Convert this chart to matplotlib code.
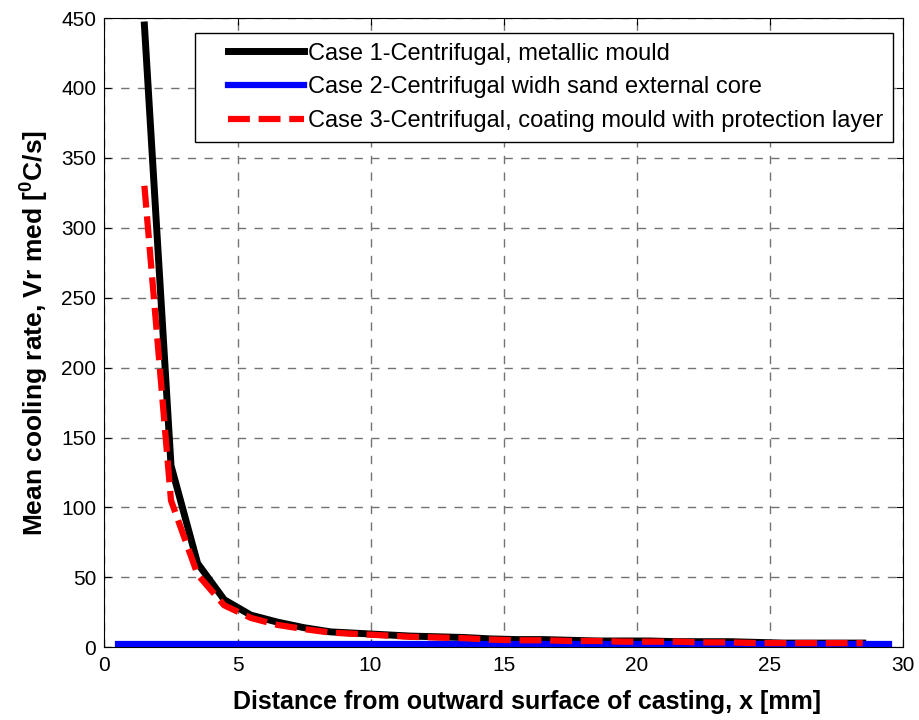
import numpy as np
import matplotlib
matplotlib.use('Agg')
import matplotlib.pyplot as plt
from matplotlib.patches import Rectangle

plt.rcParams['font.family'] = ['Liberation Sans', 'DejaVu Sans']
plt.rcParams['mathtext.fontset'] = 'custom'
plt.rcParams['mathtext.rm'] = 'Liberation Sans:bold'
plt.rcParams['mathtext.bf'] = 'Liberation Sans:bold'

# distances along casting [mm]
x_case = [1.5, 2.5, 3.5, 4.5, 5.5, 6.5, 7.5, 8.5, 9.5, 10.5, 11.5, 12.5, 13.5, 14.5,
          15.5, 16.5, 17.5, 18.5, 19.5, 20.5, 21.5, 22.5, 23.5, 24.5, 25.5, 26.5,
          27.5, 28.5]
case1 = [445, 130, 60, 34, 23, 18, 14, 11, 10, 9, 8, 7.5, 7, 6, 5.5, 5.5, 5, 4.5,
         4.5, 4.5, 4, 4, 4, 3.5, 3, 3, 3, 3]
case3 = [330, 105, 52, 30, 21, 16, 13, 10.5, 9.5, 8.5, 7.5, 7, 6.5, 5.5, 5, 5, 4.5,
         4.5, 4, 4, 4, 3.5, 3.5, 3, 3, 3, 3, 3]
x_case2 = [0.5, 5.5, 10.5, 15.5, 20.5, 25.5, 29.5]
case2 = [2, 2, 2, 2, 2, 2, 2]

labels = ['Case 1-Centrifugal, metallic mould',
          'Case 2-Centrifugal widh sand external core',
          'Case 3-Centrifugal, coating mould with protection layer']

fig = plt.figure(figsize=(9.19, 7.2), dpi=100)
ax = fig.add_axes([0.1137, 0.101, 0.8685, 0.874])

ax.plot(x_case, case1, color='black', lw=5, label=labels[0], zorder=3)
ax.plot(x_case2, case2, color='#0000ff', lw=4.5, label=labels[1], zorder=3)
ax.plot(x_case, case3, color='#ff0000', lw=4.5, dashes=(3.5, 1.4), label=labels[2], zorder=4)

ax.set_xlim(0, 30)
ax.set_ylim(0, 450)
ax.set_xticks(np.arange(0, 31, 5))
ax.set_yticks(np.arange(0, 451, 50))
ax.tick_params(direction='in', labelsize=15, length=5, pad=6, top=True, right=True)
ax.grid(True, color='0.45', linestyle=(0, (6, 6)), linewidth=1.0)

ax.set_xlabel('Distance from outward surface of casting, x [mm]', fontsize=18,
              fontweight='bold')
ax.xaxis.set_label_coords(0.529, -0.068)
ax.set_ylabel(r'Mean cooling rate, Vr med [$^{0}$C/s]', fontsize=19,
              fontweight='bold', labelpad=8)

leg = ax.legend(loc='upper right', bbox_to_anchor=(0.988, 0.976), fontsize=17,
                frameon=False, handlelength=3.2, handletextpad=0.2,
                borderaxespad=0, borderpad=0.4, labelspacing=0.5)
leg.set_zorder(6)

# legend box drawn by hand so it can have the wider left margin
fig.canvas.draw()
bb = leg.get_window_extent().transformed(fig.transFigure.inverted())
pad_left = 24 / 919
frame = Rectangle((bb.x0 - pad_left, bb.y0), bb.width + pad_left, bb.height,
                  transform=fig.transFigure, facecolor='white', edgecolor='black',
                  linewidth=1.0, zorder=5, clip_on=False)
ax.add_patch(frame)

fig.savefig('out.png', dpi=100)
